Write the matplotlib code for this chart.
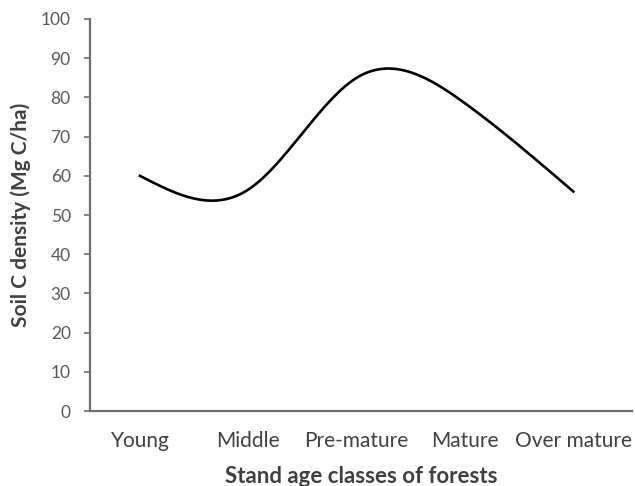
import numpy as np
import matplotlib
matplotlib.use("Agg")
import matplotlib.pyplot as plt

plt.rcParams['font.family'] = ['Lato', 'DejaVu Sans']

# data
classes = ['Young', 'Middle', 'Pre-mature', 'Mature', 'Over mature']
soil_c = [60.0, 56.5, 85.0, 78.5, 56.0]


def smooth(yv, n=60):
    # natural cubic spline through the points (smoothed line)
    y = np.array(yv, dtype=float)
    k = len(y)
    A = np.zeros((k, k))
    b = np.zeros(k)
    A[0, 0] = A[-1, -1] = 1
    for i in range(1, k - 1):
        A[i, i - 1], A[i, i], A[i, i + 1] = 1, 4, 1
        b[i] = 6 * (y[i + 1] - 2 * y[i] + y[i - 1])
    M = np.linalg.solve(A, b)
    xs, ys = [], []
    for i in range(k - 1):
        t = np.linspace(0, 1, n)
        s = 1 - t
        ys.append(s * y[i] + t * y[i + 1] + ((s**3 - s) * M[i] + (t**3 - t) * M[i + 1]) / 6)
        xs.append(i + t)
    return np.concatenate(xs), np.concatenate(ys)


fig = plt.figure(figsize=(6.35, 4.86), dpi=100)
ax = fig.add_axes([0.142, 0.154, 0.853, 0.807])

x = np.arange(len(classes))
xs, ys = smooth(soil_c)
ax.plot(xs, ys, color='black', lw=1.9)

ax.set_xlim(-0.46, 4.54)
ax.set_ylim(0, 100)
ax.set_yticks(range(0, 101, 10))
ax.set_xticks(x)
ax.set_xticklabels(classes)

for s in ['top', 'right']:
    ax.spines[s].set_visible(False)
for s in ['left', 'bottom']:
    ax.spines[s].set_color('#6f6f6f')
    ax.spines[s].set_linewidth(1.6)

ax.tick_params(axis='y', direction='out', length=4, width=1.2, color='#6f6f6f',
               labelsize=12.5, labelcolor='#595959', pad=10)
ax.tick_params(axis='x', length=0, labelsize=15, labelcolor='#404040', pad=14)

ax.set_ylabel('Soil C density (Mg C/ha)', fontsize=15, fontweight='bold',
              color='#404040', labelpad=7)
ax.set_xlabel('Stand age classes of forests', fontsize=16, fontweight='bold',
              color='#404040', labelpad=11)

fig.savefig('out.png', dpi=100)
